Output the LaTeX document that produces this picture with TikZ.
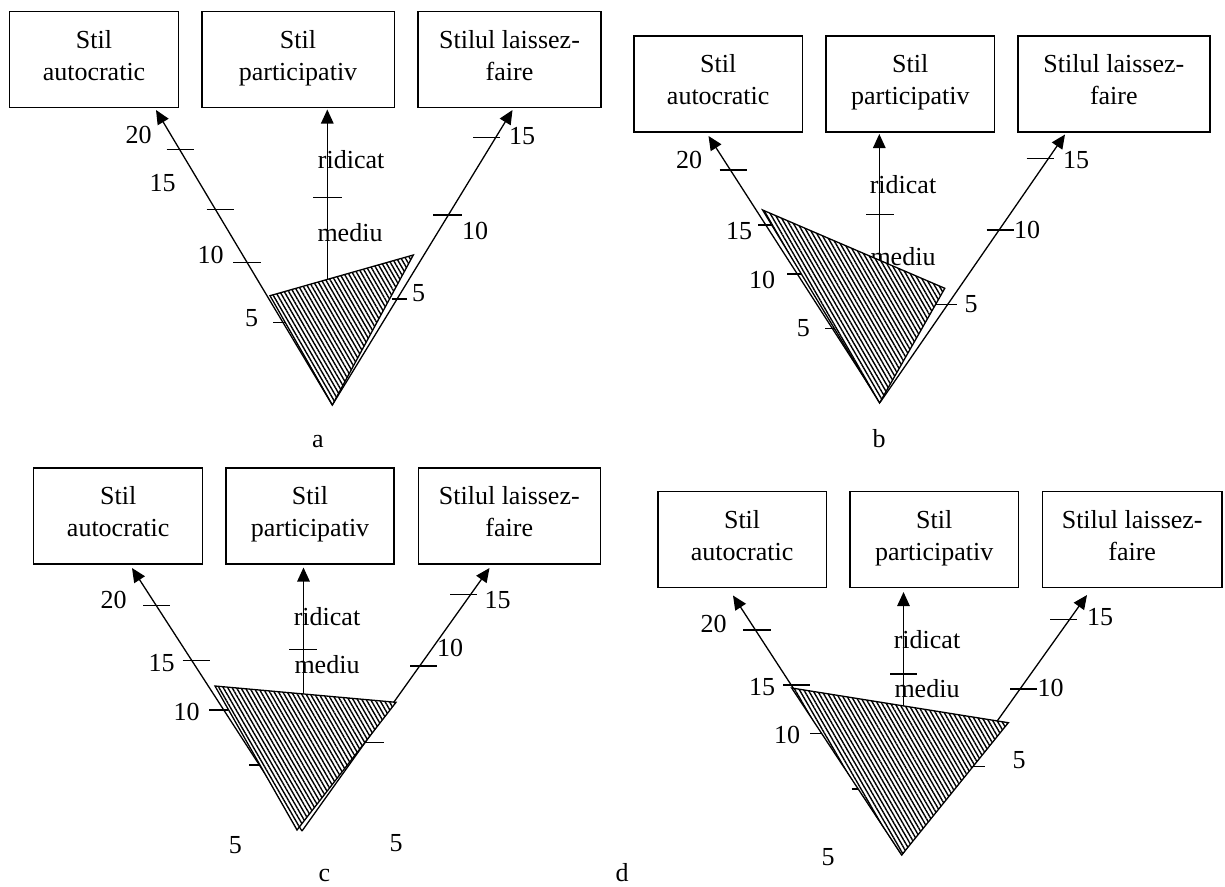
\documentclass[tikz,border=0pt]{standalone}
\usepackage{fontspec}
\setmainfont{Liberation Serif}
\usetikzlibrary{arrows.meta,patterns.meta}
\newcommand\dfont{\fontsize{26}{32}\selectfont}
\newcommand\bst{\rule[-11pt]{0pt}{31pt}}
\begin{document}
\begin{tikzpicture}[x=1pt,y=-1pt,
  box/.style={draw,line width=1.5pt,minimum height=96pt,inner sep=0pt,align=center,font=\dfont},
  ax/.style={line width=1.3pt,-{Triangle[length=14pt,width=12.5pt]}},
  tk/.style={line width=1.3pt},
  lab/.style={inner sep=0pt,font=\dfont},
  tri/.style={draw,line width=1.3pt,preaction={fill=white},pattern={Lines[angle=-60,distance=3.8pt,line width=1.4pt]}}]
\useasboundingbox (0,0) rectangle (1225,886);

% ---------------- panel a ----------------
\node[box,minimum width=168.7pt] (a1) at (94,59.7) {\bst Stil\\\bst autocratic};
\node[box,minimum width=192.5pt] (a2) at (298,59.7) {\bst Stil\\\bst participativ};
\node[box,minimum width=183pt] (a3) at (509.5,59.7) {\bst Stilul laissez-\\\bst faire};
\coordinate (ao) at (332.3,405);
\coordinate (aL) at (156,110);
\coordinate (aM) at (327.3,279.5);
\coordinate (aMt) at (327.3,109.5);
\coordinate (aR) at (512.5,110);
\draw[ax] (ao) -- (aL);
\draw[ax] (aM) -- (aMt);
\draw[ax] (ao) -- (aR);
\draw[tk] (166.7,149.3) -- (194.3,149.3);
\draw[tk] (206.7,209.3) -- (234.3,209.3);
\draw[tk] (233.3,262.7) -- (261,262.7);
\draw[tk] (273.3,322.3) -- (292,322.3);
\draw[tk] (313.3,197.3) -- (341.7,197.3);
\draw[tk] (473.3,137.3) -- (500,137.3);
\draw[tk] (433.3,215) -- (461.7,215);
\draw[tk] (391.7,299) -- (407.3,299);
\node[lab] (aL20) at (138.5,135) {20};
\node[lab] (aL15) at (162.7,183.3) {15};
\node[lab] (aL10) at (210.7,255) {10};
\node[lab] (aL5) at (251.7,318.3) {5};
\node[lab] (aHi) at (351.2,160) {ridicat};
\node[lab] (aMe) at (350,232.7) {mediu};
\node[lab] (aR15) at (522,136) {15};
\node[lab] (aR10) at (475,230.7) {10};
\node[lab] (aR5) at (418.5,293.3) {5};
\node[lab,anchor=base] (acap) at (318,447) {a};
\coordinate (aT1) at (270,295.7);
\coordinate (aT2) at (413.3,255);
\draw[tri] (aT1) -- (aT2) -- (ao) -- cycle;

% ---------------- panel b ----------------
\node[box,minimum width=168.5pt] (b1) at (718.2,83.8) {\bst Stil\\\bst autocratic};
\node[box,minimum width=168.6pt] (b2) at (910.3,83.8) {\bst Stil\\\bst participativ};
\node[box,minimum width=192.1pt] (b3) at (1113.8,83.8) {\bst Stilul laissez-\\\bst faire};
\coordinate (bo) at (880,402.5);
\coordinate (bL) at (708.5,136);
\coordinate (bM) at (879.3,262);
\coordinate (bMt) at (879.3,134);
\coordinate (bR) at (1065,134.5);
\draw[ax] (bo) -- (bL);
\draw[ax] (bM) -- (bMt);
\draw[ax] (bo) -- (bR);
\draw[tk] (719.6,170) -- (746.7,170);
\draw[tk] (758.3,225) -- (785,225);
\draw[tk] (787,274) -- (814,274);
\draw[tk] (825,328.3) -- (852,328.3);
\draw[tk] (866,214.3) -- (894,214.3);
\draw[tk] (1026.6,158.7) -- (1054,158.7);
\draw[tk] (986.6,230) -- (1014,230);
\draw[tk] (935,304.5) -- (957,304.5);
\node[lab] (bL20) at (689,160) {20};
\node[lab] (bL15) at (739,231) {15};
\node[lab] (bL10) at (762,280) {10};
\node[lab] (bL5) at (803.3,328.3) {5};
\node[lab] (bHi) at (903,185) {ridicat};
\node[lab] (bMe) at (903,256.7) {mediu};
\node[lab] (bR15) at (1076,160) {15};
\node[lab] (bR10) at (1027,230) {10};
\node[lab] (bR5) at (971,304.5) {5};
\node[lab,anchor=base] (bcap) at (879,447) {b};
\coordinate (bT1) at (762.6,210);
\coordinate (bT2) at (944.8,288.3);
\coordinate (bT3) at (879.5,403);
\draw[tri] (bT1) -- (bT2) -- (bT3) -- cycle;

% ---------------- panel c ----------------
\node[box,minimum width=169pt] (c1) at (118.2,515.8) {\bst Stil\\\bst autocratic};
\node[box,minimum width=168.4pt] (c2) at (310,515.8) {\bst Stil\\\bst participativ};
\node[box,minimum width=182pt] (c3) at (509.3,515.8) {\bst Stilul laissez-\\\bst faire};
\coordinate (co) at (302,831);
\coordinate (cL) at (132,568);
\coordinate (cM) at (303.5,694);
\coordinate (cMt) at (303.5,567.5);
\coordinate (cR) at (489.5,568);
\draw[ax] (co) -- (cL);
\draw[ax] (cM) -- (cMt);
\draw[ax] (co) -- (cR);
\draw[tk] (143,605.7) -- (170.3,605.7);
\draw[tk] (182.7,660.7) -- (210,660.7);
\draw[tk] (209.3,710) -- (228,710);
\draw[tk] (249.3,765) -- (262,765);
\draw[tk] (289.3,649.3) -- (317.3,649.3);
\draw[tk] (450,594.3) -- (476.7,594.3);
\draw[tk] (410,666) -- (436.7,666);
\draw[tk] (362,742.3) -- (384,742.3);
\node[lab] (cL20) at (113.5,600) {20};
\node[lab] (cL15) at (161.7,663.3) {15};
\node[lab] (cL10) at (186.7,711.7) {10};
\node[lab] (cHi) at (327,616.7) {ridicat};
\node[lab] (cMe) at (327,664.3) {mediu};
\node[lab] (cR15) at (497.5,600) {15};
\node[lab] (cR10) at (450,647.5) {10};
\node[lab] (cB5a) at (235.3,845) {5};
\node[lab] (cB5b) at (396,842.7) {5};
\node[lab,anchor=base] (ccap) at (324.5,881) {c};
\coordinate (cT1) at (215,686);
\coordinate (cT2) at (396,702.3);
\coordinate (cT3) at (297,830);
\draw[tri] (cT1) -- (cT2) -- (cT3) -- cycle;

% ---------------- panel d ----------------
\node[box,minimum width=168.6pt] (d1) at (742.1,539.7) {\bst Stil\\\bst autocratic};
\node[box,minimum width=168.6pt] (d2) at (934.2,539.7) {\bst Stil\\\bst participativ};
\node[box,minimum width=179.6pt] (d3) at (1132.2,539.7) {\bst Stilul laissez-\\\bst faire};
\coordinate (do) at (901.7,855);
\coordinate (dL) at (733,595.5);
\coordinate (dM) at (903.5,706);
\coordinate (dMt) at (903.5,592);
\coordinate (dR) at (1087,595);
\draw[ax] (do) -- (dL);
\draw[ax] (dM) -- (dMt);
\draw[ax] (do) -- (dR);
\draw[tk] (743.3,630) -- (770.7,630);
\draw[tk] (783.3,685) -- (810,685);
\draw[tk] (810,733.5) -- (836,733.5);
\draw[tk] (851.5,789) -- (878,789);
\draw[tk] (890,674) -- (917,674);
\draw[tk] (1050.2,619.2) -- (1076.5,619.2);
\draw[tk] (1010.3,689) -- (1036.5,689);
\draw[tk] (971,766.7) -- (984.5,766.7);
\node[lab] (dL20) at (713.5,623.5) {20};
\node[lab] (dL15) at (762,687.2) {15};
\node[lab] (dL10) at (787,735) {10};
\node[lab] (dHi) at (927,640) {ridicat};
\node[lab] (dMe) at (927,688.3) {mediu};
\node[lab] (dR15) at (1100,617) {15};
\node[lab] (dR10) at (1050.5,687.5) {10};
\node[lab] (dR5) at (1019,760) {5};
\node[lab] (dB5) at (828,857) {5};
\node[lab,anchor=base] (dcap) at (622,881) {d};
\coordinate (dT1) at (791.7,688);
\coordinate (dT2) at (1008.3,722.7);
\draw[tri] (dT1) -- (dT2) -- (do) -- cycle;
\end{tikzpicture}
\end{document}
